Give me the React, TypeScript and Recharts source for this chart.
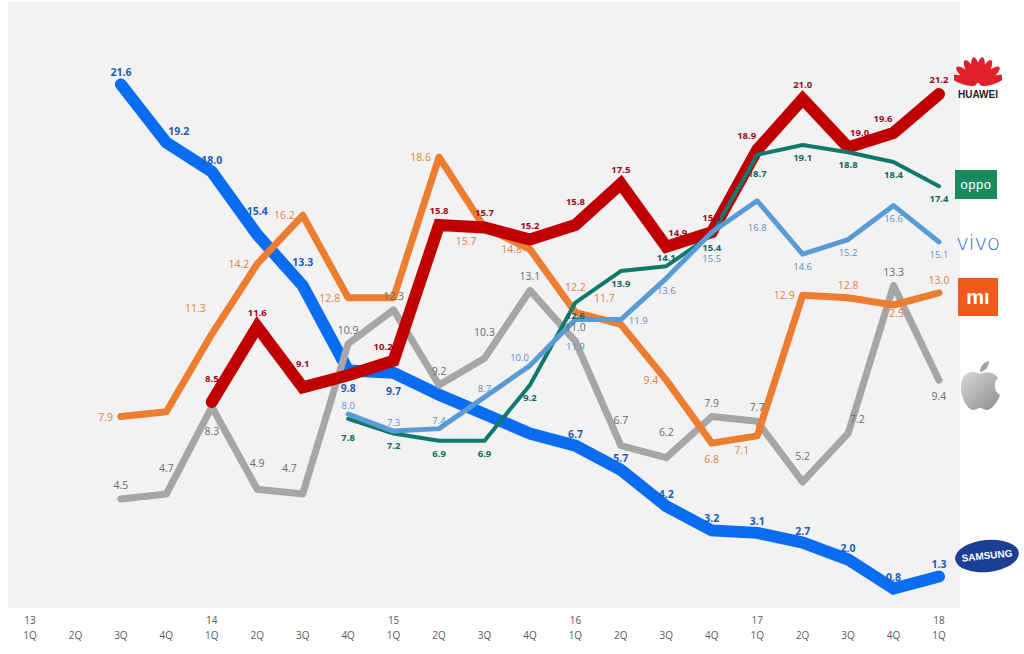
import React from "react"
import { CartesianGrid, Line, LineChart, XAxis, YAxis } from "recharts"

// quarter labels (13 1Q ... 18 1Q)
const YEARS = ["13", "", "", "", "14", "", "", "", "15", "", "", "", "16", "", "", "", "17", "", "", "", "18"]
const QUARTERS = ["1Q", "2Q", "3Q", "4Q", "1Q", "2Q", "3Q", "4Q", "1Q", "2Q", "3Q", "4Q", "1Q", "2Q", "3Q", "4Q", "1Q", "2Q", "3Q", "4Q", "1Q"]

// market share (%)
const samsung = [null, null, 21.6, 19.2, 18.0, 15.4, 13.3, 9.8, 9.7, 8.8, 8.0, 7.2, 6.7, 5.7, 4.2, 3.2, 3.1, 2.7, 2.0, 0.8, 1.3]
const huawei = [null, null, null, null, 8.5, 11.6, 9.1, 9.6, 10.2, 15.8, 15.7, 15.2, 15.8, 17.5, 14.9, 15.5, 18.9, 21.0, 19.0, 19.6, 21.2]
const oppo = [null, null, null, null, null, null, null, 7.8, 7.2, 6.9, 6.9, 9.2, 12.6, 13.9, 14.1, 15.4, 18.7, 19.1, 18.8, 18.4, 17.4]
const vivo = [null, null, null, null, null, null, null, 8.0, 7.3, 7.4, 8.7, 10.0, 11.9, 11.9, 13.6, 15.5, 16.8, 14.6, 15.2, 16.6, 15.1]
const xiaomi = [null, null, 7.9, 8.1, 11.3, 14.2, 16.2, 12.8, 12.8, 18.6, 15.7, 14.8, 12.2, 11.7, 9.4, 6.8, 7.1, 12.9, 12.8, 12.5, 13.0]
const apple = [null, null, 4.5, 4.7, 8.3, 4.9, 4.7, 10.9, 12.3, 9.2, 10.3, 13.1, 11.0, 6.7, 6.2, 7.9, 7.7, 5.2, 7.2, 13.3, 9.4]

const data = QUARTERS.map((q, i) => ({
  cat: `${i}`,
  samsung: samsung[i],
  huawei: huawei[i],
  oppo: oppo[i],
  vivo: vivo[i],
  xiaomi: xiaomi[i],
  apple: apple[i],
}))

// where each value label sits
// a above, A far above, b below, B far below, l left, r right,
// L above-left, R above-right, K far above-left, D below-left, n none
const SIDES = {
  samsung: "--aRaAAbbnnnaaaaaaaaa",
  huawei: "----AaAnLaaaAaRaLaRLa",
  oppo: "-------BbbbbbbabBbbbb",
  vivo: "-------aaaaLBrbBBbbbb",
  xiaomi: "--lnKlllnlDlAKlBDlaba",
  apple: "--aABAKaaaAaaAAaaARab",
}

const FONT = "'Open Sans', 'Noto Sans', sans-serif"

type LabelStyle = { color: string; size: number; weight: number; offA: number; offAA: number; offB: number; offBB: number }

const makeLabel = (sides: string, st: LabelStyle) => (props: any) => {
  const { x, y, value, index } = props
  const s = sides[index]
  if (value == null || s === undefined || s === "n" || s === "-") return null
  let tx = x
  let ty = y - st.offA
  let anchor = "middle"
  switch (s) {
    case "A":
      ty = y - st.offAA
      break
    case "b":
      ty = y + st.offB
      break
    case "B":
      ty = y + st.offBB
      break
    case "l":
      tx = x - 8
      ty = y + 4
      anchor = "end"
      break
    case "r":
      tx = x + 8
      ty = y + 4
      anchor = "start"
      break
    case "L":
      tx = x - 1
      anchor = "end"
      break
    case "R":
      tx = x + 2
      anchor = "start"
      break
    case "K":
      tx = x - 6
      ty = y - 22
      anchor = "end"
      break
    case "D":
      tx = x - 8
      ty = y + 18
      anchor = "end"
      break
  }
  return (
    <text x={tx} y={ty} fill={st.color} fontSize={st.size} fontWeight={st.weight} textAnchor={anchor} fontFamily={FONT}>
      {Number(value).toFixed(1)}
    </text>
  )
}

const QuarterTick = (props: any) => {
  const { x, y, payload } = props
  const i = Number(payload.value)
  return (
    <g fontFamily={FONT} fontSize={10} fill="#595959">
      {YEARS[i] && (
        <text x={x} y={y + 8} textAnchor="middle" fill="#595959">
          {YEARS[i]}
        </text>
      )}
      <text x={x} y={y + 23} textAnchor="middle" fill="#595959">
        {QUARTERS[i]}
      </text>
    </g>
  )
}

const HuaweiLogo = () => (
  <div style={{ position: "absolute", left: 954, top: 50 }}>
    <svg width={48} height={52}>
      {[-72, -50, -28, -9, 9, 28, 50, 72].map((a, i) => (
        <ellipse key={i} cx={24} cy={20} rx={4.2} ry={13} fill="#e0202a" transform={`rotate(${a} 24 35)`} />
      ))}
      <text x={24} y={48} textAnchor="middle" fontSize={10} fontWeight={700} fill="#222" fontFamily="Arial, 'Liberation Sans', sans-serif">
        HUAWEI
      </text>
    </svg>
  </div>
)

const AppleLogo = () => (
  <svg width={44} height={52} style={{ position: "absolute", left: 958, top: 360 }}>
    <defs>
      <linearGradient id="ag" x1="0" y1="0" x2="1" y2="1">
        <stop offset="0" stopColor="#d9d9d9" />
        <stop offset="1" stopColor="#8c8c8c" />
      </linearGradient>
    </defs>
    <path
      d="M22 14 C16 10 4 11 3 25 C2 38 10 50 15 50 C18 50 19 48 22 48 C25 48 26 50 29 50 C34 50 40 41 42 35 C36 32 35 22 40 18 C37 13 30 11 22 14 Z"
      fill="url(#ag)"
    />
    <path d="M22 12 C22 6 26 2 31 1 C31 7 27 11 22 12 Z" fill="#a0a0a0" />
  </svg>
)

// drawing order: later series sit on top
const SERIES = [
  { key: "samsung", stroke: "#0a6cf0", width: 12, label: makeLabel(SIDES.samsung, { color: "#1f5cb8", size: 10.5, weight: 700, offA: 8, offAA: 20, offB: 22, offBB: 28 }) },
  { key: "apple", stroke: "#a6a6a6", width: 7, label: makeLabel(SIDES.apple, { color: "#6b6b6b", size: 10.5, weight: 400, offA: 10, offAA: 22, offB: 20, offBB: 28 }) },
  { key: "xiaomi", stroke: "#ed7d31", width: 7, label: makeLabel(SIDES.xiaomi, { color: "#e2823f", size: 10.5, weight: 400, offA: 9, offAA: 21, offB: 12, offBB: 20 }) },
  { key: "huawei", stroke: "#c00000", width: 12, label: makeLabel(SIDES.huawei, { color: "#9b0a1e", size: 9.5, weight: 700, offA: 11, offAA: 20, offB: 16, offBB: 24 }) },
  { key: "oppo", stroke: "#10786c", width: 4, label: makeLabel(SIDES.oppo, { color: "#0f6a5c", size: 9.5, weight: 700, offA: 5, offAA: 12, offB: 16, offBB: 22 }) },
  { key: "vivo", stroke: "#5b9bd5", width: 5, label: makeLabel(SIDES.vivo, { color: "#5b8fc7", size: 9.5, weight: 400, offA: 5, offAA: 12, offB: 16, offBB: 30 }) },
]

export default function App() {
  return (
    <div style={{ position: "absolute", left: 0, top: 0, width: 1024, height: 654, background: "#fff" }}>
      <LineChart width={1024} height={654} data={data} margin={{ top: 2, right: 64, left: 8, bottom: 16 }}>
        <CartesianGrid fill="#f2f2f2" horizontal={false} vertical={false} />
        <XAxis
          dataKey="cat"
          interval={0}
          tickLine={false}
          axisLine={false}
          height={30}
          padding={{ left: 22, right: 21 }}
          tick={<QuarterTick />}
        />
        <YAxis hide domain={[0, 25]} />
        {SERIES.map((s) => (
          <Line
            key={s.key}
            dataKey={s.key}
            stroke={s.stroke}
            strokeWidth={s.width}
            strokeLinecap="round"
            strokeLinejoin={s.width > 10 ? "miter" : "round"}
            dot={false}
            activeDot={false}
            isAnimationActive={false}
          />
        ))}
        {/* value labels drawn on top of every line */}
        {SERIES.map((s) => (
          <Line
            key={`${s.key}-labels`}
            dataKey={s.key}
            stroke="none"
            dot={false}
            activeDot={false}
            isAnimationActive={false}
            label={s.label}
          />
        ))}
      </LineChart>

      <HuaweiLogo />
      <div
        style={{
          position: "absolute", left: 955, top: 170, width: 42, height: 29, background: "#1a8a5c",
          color: "#fff", fontFamily: "Arial, sans-serif", fontSize: 13, lineHeight: "29px", textAlign: "center", letterSpacing: 0.5,
        }}
      >
        oppo
      </div>
      <div
        style={{
          position: "absolute", left: 956, top: 228, width: 50, fontFamily: "'DejaVu Sans', Arial, sans-serif", fontSize: 22,
          fontWeight: 300, color: "#2f72d2", lineHeight: "30px", letterSpacing: -0.5,
        }}
      >
        vivo
      </div>
      <div
        style={{
          position: "absolute", left: 958, top: 278, width: 40, height: 38, background: "#f05a1a", color: "#fff",
          fontFamily: "Arial, sans-serif", fontWeight: 700, fontSize: 20, lineHeight: "38px", textAlign: "center",
        }}
      >
        mı
      </div>
      <AppleLogo />
      <div
        style={{
          position: "absolute", left: 955, top: 540, width: 64, height: 32, borderRadius: "50%", background: "#1b3f95",
          transform: "rotate(-6deg)", color: "#fff", fontFamily: "Arial, sans-serif", fontWeight: 700, fontSize: 10,
          lineHeight: "32px", textAlign: "center",
        }}
      >
        SAMSUNG
      </div>
    </div>
  )
}
